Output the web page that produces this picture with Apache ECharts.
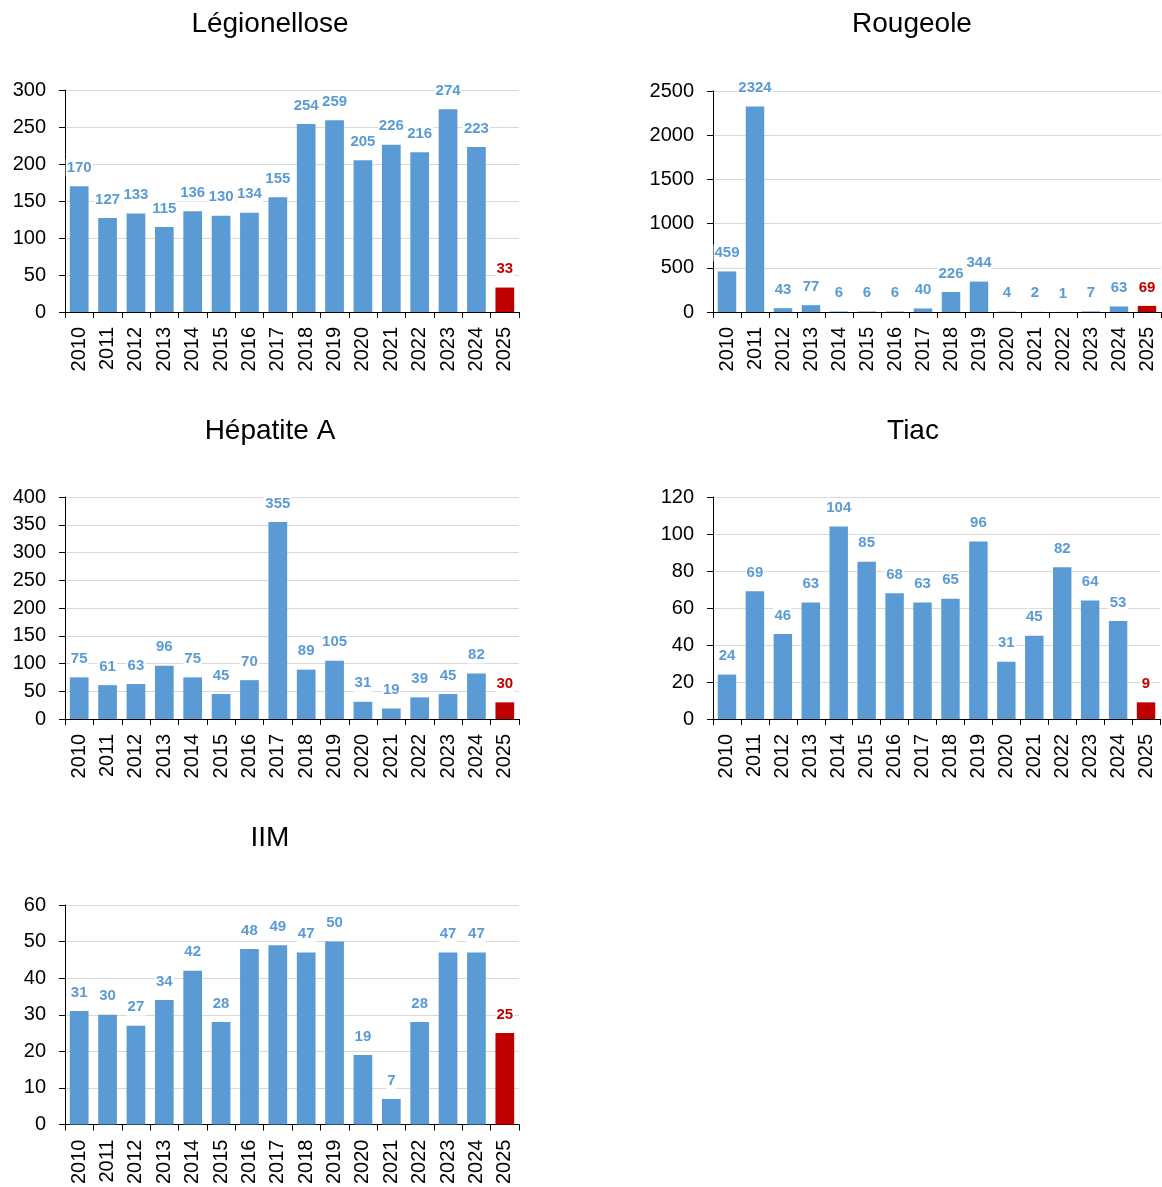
<!DOCTYPE html>
<html>
<head>
<meta charset="utf-8">
<script src="https://cdn.jsdelivr.net/npm/echarts@6/dist/echarts.min.js"></script>
<style>
html,body{margin:0;padding:0;background:#fff;}
#c{width:1162px;height:1187px;}
</style>
</head>
<body>
<div id="c"></div>
<script>
const years = ['2010','2011','2012','2013','2014','2015','2016','2017','2018','2019','2020','2021','2022','2023','2024','2025'];
const titles = ['Légionellose','Rougeole','Hépatite A','Tiac','IIM'];
const legionellose = [170,127,133,115,136,130,134,155,254,259,205,226,216,274,223,33];
const rougeole = [459,2324,43,77,6,6,6,40,226,344,4,2,1,7,63,69];
const hepatiteA = [75,61,63,96,75,45,70,355,89,105,31,19,39,45,82,30];
const tiac = [24,69,46,63,104,85,68,63,65,96,31,45,82,64,53,9];
const iim = [31,30,27,34,42,28,48,49,47,50,19,7,28,47,47,25];
const yMax = [300,2500,400,120,60];
const yInterval = [50,500,50,20,10];

const allData = [legionellose, rougeole, hepatiteA, tiac, iim];
const BLUE = '#5b9bd5', RED = '#c00000';
const FONT = 'Liberation Sans, Arial, sans-serif';

const layout = [
  {left:65, top:90, width:454, height:222, tx:270, ty:5},
  {left:713, top:91, width:448, height:221, tx:912, ty:5},
  {left:65, top:497, width:454, height:222, tx:270, ty:412},
  {left:713, top:497, width:447, height:222, tx:913, ty:412},
  {left:65, top:905, width:454, height:222, tx:270, ty:819}
];

const option = {
  animation:false,
  backgroundColor:'#fff',
  title: layout.map((l,i)=>({
    text: titles[i], left: l.tx - 5, top: l.ty, textAlign:'center',
    textStyle:{fontFamily:FONT, fontSize:28, fontWeight:'normal', color:'#000'}
  })),
  grid: layout.map(l=>({left:l.left, top:l.top, width:l.width, height:l.height, containLabel:false})),
  xAxis: layout.map((l,i)=>({
    type:'category', gridIndex:i, data:years,
    axisLine:{lineStyle:{color:'#000', width:1}},
    axisTick:{show:true, alignWithLabel:false, length:6, lineStyle:{color:'#000'}},
    axisLabel:{rotate:90, margin:15, fontFamily:FONT, fontSize:20, color:'#000', interval:0},
    splitLine:{show:false}
  })),
  yAxis: layout.map((l,i)=>({
    type:'value', gridIndex:i, min:0, max:yMax[i], interval:yInterval[i],
    axisLine:{show:true, lineStyle:{color:'#000', width:1}},
    axisTick:{show:true, length:6, lineStyle:{color:'#000'}},
    axisLabel:{margin:19, fontFamily:FONT, fontSize:20, color:'#000', formatter: v => String(v)},
    splitLine:{show:true, lineStyle:{color:'#d9d9d9', width:1}}
  })),
  series: allData.map((arr,i)=>({
    type:'bar', xAxisIndex:i, yAxisIndex:i, barWidth:'66%',
    data: arr.map((v,j)=>{
      const last = j===arr.length-1;
      return {
        value:v,
        itemStyle:{color: last?RED:BLUE},
        label:{color: last?RED:BLUE}
      };
    }),
    label:{show:true, position:'top', distance:10, fontFamily:FONT, fontSize:15, fontWeight:'bold',
      backgroundColor:'#fff', padding:[1,1,1,1]},
    z:2
  }))
};

const chart = echarts.init(document.getElementById('c'), null, {renderer:'canvas'});
chart.setOption(option);
</script>
</body>
</html>
